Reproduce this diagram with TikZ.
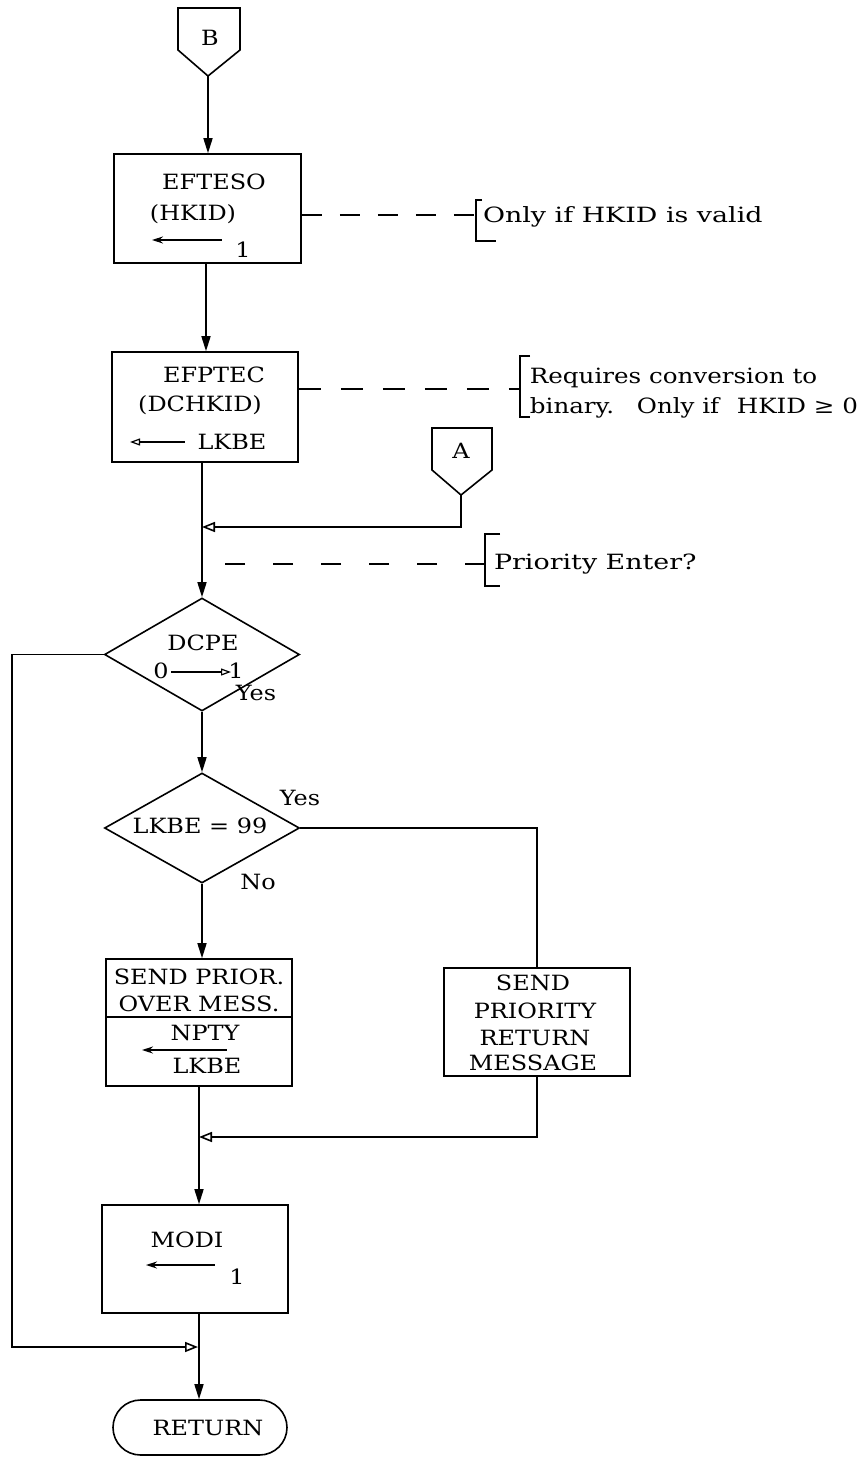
\documentclass[tikz,border=0pt]{standalone}
\usepackage{fontspec}
\setmainfont{DejaVu Serif}
\usetikzlibrary{arrows.meta,shapes.geometric,shapes.misc}
\begin{document}
\begin{tikzpicture}[x=1pt,y=-1pt,line width=1.6pt,
  box/.style={draw,rectangle,inner sep=0pt},
  dia/.style={draw,diamond,inner sep=0pt},
  bt/.style={font=\fontsize{21}{25}\selectfont,inner sep=0pt,xscale=1.14},
  ct/.style={font=\fontsize{21}{25}\selectfont,inner sep=0pt,anchor=west,xscale=1.28},
  flow/.style={-{Triangle[length=15pt,width=9pt]}},
  merge/.style={-{Triangle[open,length=13pt,width=10pt]}},
  ia/.style={{Stealth[length=11pt,width=7pt]}-,line width=1.2pt},
  iao/.style={{Triangle[open,length=10pt,width=7pt]}-,line width=1.2pt},
  dsh/.style={line width=1.2pt,dash pattern=on 20pt off 18pt},
  brk/.style={line width=1.3pt}]
\useasboundingbox (0,0) rectangle (865,1458);

% connector B
\node[bt] (Bl) at (210,38) {B};
\coordinate (Btip) at (208,76);
\draw (178,8) -- (240,8) -- (240,50) -- (Btip) -- (178,50) -- cycle;

% EFTESO box
\node[box,minimum width=187pt,minimum height=109pt] (efteso) at (207.5,208.5) {};
\node[bt] (t1) at (214,182) {EFTESO};
\node[bt] (t2) at (193,214) {(HKID)};
\coordinate (a1s) at (152,240); \coordinate (a1e) at (222,240);
\draw[ia] (a1s) -- (a1e);
\node[bt] (t3) at (243,250) {1};

% comment 1
\node[ct] (c1) at (482,217) {Only if HKID is valid};
\coordinate (b1t) at (476,200); \coordinate (b1b) at (476,241);
\draw[brk] ([xshift=6pt]b1t) -- (b1t) -- (b1b) -- ([xshift=20pt]b1b);
\coordinate (d1) at (476,215);
\draw[dsh] (efteso.east |- d1) -- (d1);

% EFPTEC box
\node[box,minimum width=186pt,minimum height=110pt] (efptec) at (205,407) {};
\node[bt] (t4) at (214,375) {EFPTEC};
\node[bt] (t5) at (200,405) {(DCHKID)};
\coordinate (a2s) at (130,442); \coordinate (a2e) at (185,442);
\draw[iao] (a2s) -- (a2e);
\node[bt] (t6) at (232,442) {LKBE};

% comment 2
\node[ct,xscale=0.914] (c2a) at (529,378) {Requires conversion to};
\node[ct,xscale=0.914] (c2b) at (529,408) {binary.\hspace{0.5em} Only if\hspace{0.4em} HKID ≥ 0};
\coordinate (b2t) at (520,356); \coordinate (b2b) at (520,417);
\draw[brk] ([xshift=10pt]b2t) -- (b2t) -- (b2b) -- ([xshift=10pt]b2b);
\coordinate (d2) at (520,389);
\draw[dsh,dash pattern=on 22pt off 20pt] (efptec.east |- d2) -- (d2);

% flow top
\coordinate (fx1) at (206,0);
\coordinate (fx2) at (202,0);
\draw[flow] (Btip) -- (Btip |- efteso.north);
\draw[flow] (efteso.south -| fx1) -- (efptec.north -| fx1);

% connector A
\node[bt] (Al) at (461,451) {A};
\coordinate (Atip) at (461,495);
\draw (432,428) -- (492,428) -- (492,470) -- (Atip) -- (432,470) -- cycle;
\coordinate (mA) at (461,527);
\coordinate (jA) at (202,527);
\draw[merge] (Atip) -- (mA) -- (jA);

% comment 3
\node[ct] (c3) at (493,564) {Priority Enter?};
\coordinate (b3t) at (485,534); \coordinate (b3b) at (485,586);
\draw[brk] ([xshift=15pt]b3t) -- (b3t) -- (b3b) -- ([xshift=15pt]b3b);
\coordinate (d3) at (485,564); \coordinate (d3e) at (224,564);
\draw[dsh,dash pattern=on 20pt off 28pt] (d3) -- (d3e);

% DCPE diamond
\node[dia,minimum width=195pt,minimum height=113pt] (dcpe) at (202,654.5) {};
\draw[flow] (efptec.south -| fx2) -- (dcpe.north);
\node[bt] (t7) at (203,643) {DCPE};
\node[bt] (t8) at (161,671) {0};
\node[bt] (t9) at (236,671) {1};
\coordinate (a3s) at (171,672); \coordinate (a3e) at (231,672);
\draw[-{Triangle[open,length=10pt,width=7pt]},line width=1.2pt] (a3s) -- (a3e);
\node[bt] (t10) at (256,693) {Yes};

% loop
\coordinate (lc) at (12,1347);
\coordinate (lj) at (198,1347);
\draw[merge] (dcpe.west) -| (lc) -- (lj);

% LKBE diamond
\node[dia,minimum width=195pt,minimum height=110pt] (lkbe) at (202,828) {};
\draw[flow] (dcpe.south) -- (lkbe.north);
\node[bt] (t11) at (200,826) {LKBE = 99};
\node[bt] (t12) at (300,798) {Yes};
\node[bt] (t13) at (258,882) {No};

% SEND PRIOR box
\node[box,minimum width=186pt,minimum height=127pt] (sendp) at (199,1022.5) {};
\draw[flow] (lkbe.south) -- (lkbe.south |- sendp.north);
\coordinate (dv) at (0,1017);
\draw (sendp.west |- dv) -- (sendp.east |- dv);
\node[bt] (t14) at (199,977) {SEND PRIOR.};
\node[bt] (t15) at (199,1004) {OVER MESS.};
\node[bt] (t16) at (205,1033) {NPTY};
\coordinate (a4s) at (142,1050); \coordinate (a4e) at (227,1050);
\draw[ia] (a4s) -- (a4e);
\node[bt] (t17) at (207,1066) {LKBE};

% SEND PRIORITY box
\node[box,minimum width=186pt,minimum height=108pt] (sendr) at (537,1022) {};
\draw (lkbe.east) -| (sendr.north);
\node[bt] (t18) at (533,983) {SEND};
\node[bt] (t19) at (535,1011) {PRIORITY};
\node[bt] (t20) at (535,1038) {RETURN};
\node[bt] (t21) at (533,1063) {MESSAGE};
\coordinate (jR) at (199,1137);
\draw[merge] (sendr.south) |- (jR);

% MODI box
\node[box,minimum width=186pt,minimum height=108pt] (modi) at (195,1259) {};
\draw[flow] (sendp.south) -- (sendp.south |- modi.north);
\node[bt] (t22) at (187,1240) {MODI};
\coordinate (a5s) at (146,1265); \coordinate (a5e) at (215,1265);
\draw[ia] (a5s) -- (a5e);
\node[bt] (t23) at (237,1277) {1};

% RETURN
\node[draw,rounded rectangle,minimum width=174pt,minimum height=55pt,inner sep=0pt] (ret) at (200,1427.5) {};
\node[bt] (t24) at (208,1428) {RETURN};
\coordinate (fx3) at (199,0);
\draw[flow] (modi.south -| fx3) -- (fx3 |- ret.north);
\end{tikzpicture}
\end{document}
